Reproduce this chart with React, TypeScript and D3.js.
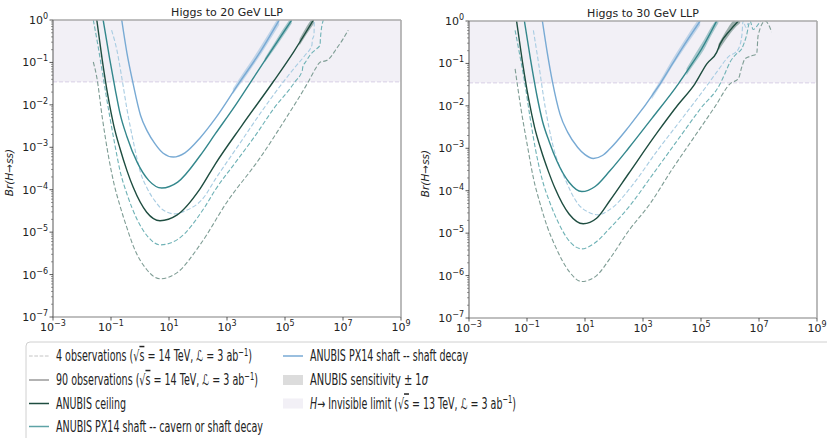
import React, { useLayoutEffect, useRef, useState } from "react";
import * as d3 from "d3";

// values are [log10(decay length), log10(Br)]
const xTickExps = [-3, -1, 1, 3, 5, 7, 9];
const yTickExps = [0, -1, -2, -3, -4, -5, -6, -7];
const invisibleLimit = 0.035;

// ---- Higgs to 20 GeV LLP
const ceil20 = [[-1.49, 0], [-1.3, -0.95], [-1.09, -1.85], [-0.9, -2.5], [-0.69, -3.03], [-0.45, -3.55], [-0.23, -3.95], [0.23, -4.53], [0.69, -4.73], [1.27, -4.6], [2.07, -3.98], [2.59, -3.4], [3.5, -2.5], [4.6, -1.45], [5.3, -0.75], [5.98, 0]];
const cav20 = [[-1.27, 0], [-1.05, -0.9], [-0.85, -1.65], [-0.69, -2.2], [-0.45, -2.75], [-0.1, -3.35], [0.3, -3.78], [0.75, -3.96], [1.3, -3.82], [2.07, -3.2], [2.6, -2.68], [3.3, -2.0], [3.8, -1.48], [4.5, -0.75], [5.23, 0]];
const shaft20 = [[-0.63, 0], [-0.45, -0.78], [-0.25, -1.46], [0.02, -2.25], [0.25, -2.62], [0.52, -2.92], [0.8, -3.14], [1.15, -3.23], [1.55, -3.13], [2.07, -2.78], [2.6, -2.32], [3.4, -1.5], [4.1, -0.8], [4.8, 0]];
const ceil20obs4 = [[-1.61, -0.99], [-1.49, -1.35], [-1.3, -2.3], [-1.09, -3.2], [-0.9, -3.85], [-0.69, -4.38], [-0.45, -4.9], [-0.23, -5.33], [0.23, -5.88], [0.69, -6.1], [1.27, -5.96], [2.07, -5.3], [2.99, -4.3], [4.14, -3.25], [5.0, -2.35], [5.8, -1.46], [6.05, -1.15], [6.2, -1.0], [6.45, -0.95], [6.6, -0.85], [6.75, -0.7], [7.0, -0.45], [7.18, -0.24]];
const cav20obs4 = [[-1.61, 0], [-1.45, -0.6], [-1.27, -1.35], [-1.05, -2.25], [-0.85, -3.0], [-0.69, -3.55], [-0.45, -4.1], [-0.1, -4.7], [0.3, -5.13], [0.69, -5.3], [1.3, -5.17], [2.24, -4.4], [2.6, -4.0], [3.3, -3.35], [4.0, -2.7], [4.6, -2.1], [5.34, -1.46], [5.6, -1.18], [5.61, -1.12], [5.75, -0.95], [5.86, -0.83], [6.05, -0.7], [6.21, -0.59], [6.22, -0.45], [6.32, 0]];
const shaft20obs4 = [[-0.98, -0.24], [-0.8, -0.7], [-0.63, -1.35], [-0.45, -2.1], [-0.25, -2.8], [0.02, -3.6], [0.25, -3.97], [0.52, -4.27], [0.8, -4.48], [1.2, -4.57], [1.55, -4.5], [2.18, -4.2], [2.6, -3.75], [3.4, -2.95], [4.2, -2.15], [4.94, -1.46], [5.3, -1.15], [5.69, -0.83], [5.93, -0.59], [5.94, -0.48], [6.0, -0.35], [6.01, 0]];
// [log10 x, lower, upper]
const shaft20band = [[3.2, -1.75, -1.62], [3.6, -1.38, -1.2], [3.9, -1.08, -0.9], [4.2, -0.78, -0.58], [4.5, -0.45, -0.25], [4.8, -0.12, 0.1]];
const cav20band = [[4.3, -1.0, -0.9], [4.6, -0.72, -0.58], [4.9, -0.42, -0.25], [5.23, -0.08, 0.08]];
const ceil20band = [[5.5, -0.6, -0.45], [5.75, -0.33, -0.15], [6.0, -0.08, 0.1]];

// ---- Higgs to 30 GeV LLP
const ceil30 = [[-1.36, 0], [-1.16, -0.95], [-0.94, -1.85], [-0.74, -2.5], [-0.52, -3.03], [-0.26, -3.55], [-0.03, -3.95], [0.45, -4.55], [0.94, -4.78], [1.4, -4.65], [1.86, -4.23], [2.5, -3.6], [3.5, -2.62], [4.2, -1.98], [4.79, -1.48], [5.2, -1.01], [5.54, -0.74], [5.66, -0.54], [6.0, -0.22], [6.29, 0]];
const cav30 = [[-1.09, 0], [-0.88, -0.9], [-0.66, -1.75], [-0.47, -2.35], [-0.23, -2.85], [0.03, -3.3], [0.45, -3.8], [0.89, -4.02], [1.35, -3.9], [1.86, -3.53], [2.5, -3.0], [3.3, -2.3], [4.22, -1.48], [4.6, -1.1], [5.02, -0.66], [5.54, 0]];
const shaft30 = [[-0.47, 0], [-0.3, -0.75], [-0.12, -1.44], [0.14, -2.2], [0.4, -2.62], [0.75, -2.98], [1.0, -3.15], [1.29, -3.24], [1.6, -3.17], [1.86, -3.01], [2.5, -2.5], [3.59, -1.48], [4.33, -0.66], [4.97, 0]];
const ceil30obs4 = [[-1.41, -1.13], [-1.2, -2.1], [-0.97, -3.0], [-0.78, -3.7], [-0.55, -4.3], [-0.3, -4.85], [-0.03, -5.3], [0.45, -5.9], [0.89, -6.14], [1.4, -6.0], [1.86, -5.6], [2.5, -4.95], [3.24, -4.31], [4.0, -3.5], [4.8, -2.7], [5.5, -2.0], [6.0, -1.48], [6.29, -1.36], [6.4, -1.1], [6.52, -0.89], [6.75, -0.82], [6.92, -0.77], [6.97, -0.34], [7.21, 0], [7.44, -0.26]];
const cav30obs4 = [[-1.41, -0.22], [-1.25, -0.8], [-1.09, -1.4], [-0.9, -2.25], [-0.7, -3.05], [-0.49, -3.7], [-0.2, -4.3], [0.08, -4.75], [0.5, -5.22], [0.89, -5.37], [1.3, -5.25], [1.86, -4.88], [2.55, -4.35], [3.3, -3.65], [4.2, -2.8], [5.0, -2.05], [5.66, -1.48], [5.85, -1.2], [6.0, -0.97], [6.23, -0.77], [6.4, -0.66], [6.57, -0.34], [6.69, 0], [6.8, -0.2], [6.95, -0.1], [7.05, 0]];
const shaft30obs4 = [[-0.78, -0.22], [-0.6, -1.0], [-0.38, -2.0], [-0.1, -2.95], [0.31, -3.72], [0.77, -4.32], [1.1, -4.5], [1.46, -4.57], [1.8, -4.47], [2.03, -4.35], [2.6, -3.9], [3.5, -3.05], [4.4, -2.25], [5.25, -1.48], [5.6, -1.15], [6.0, -0.81], [6.17, -0.75], [6.29, -0.66], [6.41, -0.34], [6.45, 0], [6.55, -0.15], [6.62, -0.05]];
const shaft30band = [[3.3, -1.85, -1.72], [3.7, -1.42, -1.28], [4.0, -1.08, -0.92], [4.33, -0.74, -0.56], [4.65, -0.42, -0.22], [4.97, -0.1, 0.1]];
const cav30band = [[4.5, -1.28, -1.12], [4.8, -0.98, -0.78], [5.1, -0.68, -0.45], [5.35, -0.35, -0.15], [5.6, -0.05, 0.1]];
const ceil30band = [[5.6, -0.7, -0.55], [5.85, -0.45, -0.25], [6.1, -0.22, 0.0], [6.35, -0.05, 0.1]];

const C_CEIL = "#1e4d40";
const C_CAV = "#33878c";
const C_SHAFT = "#78aad4";
const C_CEIL4 = "#7f9d95";
const C_CAV4 = "#6fb2b6";
const C_SHAFT4 = "#a8cce2";
const FONT = "DejaVu Sans, sans-serif";
const DASH = "4.5,2.2";

function styleSet(ceil, cav, shaft, ceil4, cav4, shaft4) {
  return [
    { pts: ceil4, color: C_CEIL4, dash: DASH, w: 1.1 },
    { pts: cav4, color: C_CAV4, dash: DASH, w: 1.1 },
    { pts: shaft4, color: C_SHAFT4, dash: DASH, w: 1.1 },
    { pts: shaft, color: C_SHAFT, dash: null, w: 1.4 },
    { pts: cav, color: C_CAV, dash: null, w: 1.4 },
    { pts: ceil, color: C_CEIL, dash: null, w: 1.4 },
  ];
}

function Panel({ id, title, left, right, top, bottom, series, bands }) {
  const x = d3.scaleLog().domain([1e-3, 1e9]).range([left, right]);
  const y = d3.scaleLog().domain([1e-7, 1]).range([bottom, top]);
  const line = d3.line().x((d) => x(10 ** d[0])).y((d) => y(10 ** d[1])).curve(d3.curveMonotoneX);
  const area = d3.area().x((d) => x(10 ** d[0])).y0((d) => y(10 ** d[1])).y1((d) => y(10 ** d[2])).curve(d3.curveMonotoneX);
  const minor = [];
  for (let e = -7; e < 0; e++) for (let k = 2; k <= 9; k++) minor.push(k * 10 ** e);
  const yInv = y(invisibleLimit);
  return (
    <g>
      <defs>
        <clipPath id={id}>
          <rect x={left} y={top} width={right - left} height={bottom - top} />
        </clipPath>
      </defs>
      <text x={(left + right) / 2} y={top - 4} textAnchor="middle" fontSize={11} fontFamily={FONT} fill="#222">{title}</text>
      <g clipPath={`url(#${id})`}>
        <rect x={left} y={top} width={right - left} height={yInv - top} fill="#f2f0f6" />
        <line x1={left} x2={right} y1={yInv} y2={yInv} stroke="#e2dcec" strokeWidth={1.3} strokeDasharray="4,2" />
        {bands.map((b, i) => (
          <path key={i} d={area(b.pts)} fill={b.color} opacity={0.4} />
        ))}
        {series.map((s, i) => (
          <path key={i} d={line(s.pts)} fill="none" stroke={s.color} strokeWidth={s.w} strokeDasharray={s.dash || undefined} />
        ))}
      </g>
      {/* frame */}
      <line x1={left} x2={right} y1={top} y2={top} stroke="#aaa" strokeWidth={1.6} />
      <line x1={right} x2={right} y1={top} y2={bottom} stroke="#aaa" strokeWidth={1.6} />
      <line x1={left} x2={right} y1={bottom} y2={bottom} stroke="#aaa" strokeWidth={1.6} />
      <line x1={left} x2={left} y1={top} y2={bottom} stroke="#666" strokeWidth={1.1} />
      {minor.map((v, i) => (
        <line key={i} x1={left - 2} x2={left} y1={y(v)} y2={y(v)} stroke="#555" strokeWidth={0.6} />
      ))}
      {yTickExps.map((e) => (
        <g key={e}>
          <line x1={left - 3.5} x2={left} y1={y(10 ** e)} y2={y(10 ** e)} stroke="#333" strokeWidth={0.8} />
          <text x={left - 5} y={y(10 ** e) + 4} textAnchor="end" fontSize={11} fontFamily={FONT} fill="#222">
            10<tspan dy={-5} fontSize={8}>{e === 0 ? "0" : "\u2212" + Math.abs(e)}</tspan>
          </text>
        </g>
      ))}
      {xTickExps.map((e) => (
        <g key={e}>
          <line x1={x(10 ** e)} x2={x(10 ** e)} y1={bottom} y2={bottom + 3.5} stroke="#333" strokeWidth={0.8} />
          <text x={x(10 ** e)} y={bottom + 14} textAnchor="middle" fontSize={11} fontFamily={FONT} fill="#222">
            10<tspan dy={-5} fontSize={8}>{e < 0 ? "\u2212" + Math.abs(e) : String(e)}</tspan>
          </text>
        </g>
      ))}
      <text transform={`translate(${left - 40},${(top + bottom) / 2 + 4}) rotate(-90)`} textAnchor="middle" fontSize={10.5} fontStyle="italic" fontFamily={FONT} fill="#222">
        Br(H→ss)
      </text>
    </g>
  );
}

function Sqrt({ v }) {
  return (
    <>
      (√<tspan style={{ textDecoration: "overline" }}>s</tspan> = {v} TeV, <tspan fontStyle="italic">ℒ</tspan> = 3 ab
      <tspan dy={-5.5} fontSize={10.5}>−1</tspan>
      <tspan dy={5.5}>)</tspan>
    </>
  );
}

// squeeze a legend label horizontally to the width it has in the figure
function FitText({ x, y, width, children }) {
  const ref = useRef(null);
  const [k, setK] = useState(0.7);
  useLayoutEffect(() => {
    const w = ref.current ? ref.current.getComputedTextLength() : 0;
    if (w > 0) setK(width / w);
  }, [width]);
  return (
    <g transform={`translate(${x},${y}) scale(${k},1)`}>
      <text ref={ref} x={0} y={0}>{children}</text>
    </g>
  );
}

function Legend() {
  const rowY = [356, 380, 403.5, 426.5];
  const lx = 29, rx = 283;
  const b = 5.3;
  return (
    <g fontFamily={FONT} fontSize={15} fill="#222">
      <rect x={26} y={342} width={820} height={110} rx={4} fill="#fff" stroke="#d0d0d0" strokeWidth={1} />
      <line x1={lx} x2={lx + 20} y1={rowY[0]} y2={rowY[0]} stroke="#c4c4c4" strokeWidth={1} strokeDasharray="3.7,1.6" />
      <FitText x={56} y={rowY[0] + b} width={196}>4 observations <Sqrt v="14" /></FitText>
      <line x1={lx} x2={lx + 20} y1={rowY[1]} y2={rowY[1]} stroke="#8a8a8a" strokeWidth={1.3} />
      <FitText x={56} y={rowY[1] + b} width={202}>90 observations <Sqrt v="14" /></FitText>
      <line x1={lx} x2={lx + 20} y1={rowY[2]} y2={rowY[2]} stroke={C_CEIL} strokeWidth={1.5} />
      <FitText x={56} y={rowY[2] + b} width={70}>ANUBIS ceiling</FitText>
      <line x1={lx} x2={lx + 20} y1={rowY[3]} y2={rowY[3]} stroke="#5ea3a6" strokeWidth={1.5} />
      <FitText x={56} y={rowY[3] + b} width={207}>ANUBIS PX14 shaft -- cavern or shaft decay</FitText>

      <line x1={rx} x2={rx + 20} y1={rowY[0]} y2={rowY[0]} stroke={C_SHAFT} strokeWidth={1.5} />
      <FitText x={310} y={rowY[0] + b} width={158}>ANUBIS PX14 shaft -- shaft decay</FitText>
      <rect x={rx} y={rowY[1] - 5} width={20} height={10} fill="#dcdcdc" />
      <FitText x={310} y={rowY[1] + b} width={118}>ANUBIS sensitivity ± 1<tspan fontStyle="italic">σ</tspan></FitText>
      <rect x={rx} y={rowY[2] - 5} width={20} height={10} fill="#f2f0f6" />
      <FitText x={310} y={rowY[2] + b} width={206}><tspan fontStyle="italic">H</tspan>→ Invisible limit <Sqrt v="13" /></FitText>
    </g>
  );
}

export default function App() {
  const s20 = styleSet(ceil20, cav20, shaft20, ceil20obs4, cav20obs4, shaft20obs4);
  const s30 = styleSet(ceil30, cav30, shaft30, ceil30obs4, cav30obs4, shaft30obs4);
  const b20 = [
    { pts: shaft20band, color: C_SHAFT },
    { pts: cav20band, color: C_CAV },
    { pts: ceil20band, color: C_CEIL },
  ];
  const b30 = [
    { pts: shaft30band, color: C_SHAFT },
    { pts: cav30band, color: C_CAV },
    { pts: ceil30band, color: C_CEIL },
  ];
  return (
    <svg width={827} height={438} style={{ position: "absolute", left: 0, top: 0, background: "#fff" }}>
      <Panel id="c20" title="Higgs to 20 GeV LLP" left={53} right={401} top={20} bottom={317} series={s20} bands={b20} />
      <Panel id="c30" title="Higgs to 30 GeV LLP" left={469} right={817} top={21} bottom={318} series={s30} bands={b30} />
      <Legend />
    </svg>
  );
}
